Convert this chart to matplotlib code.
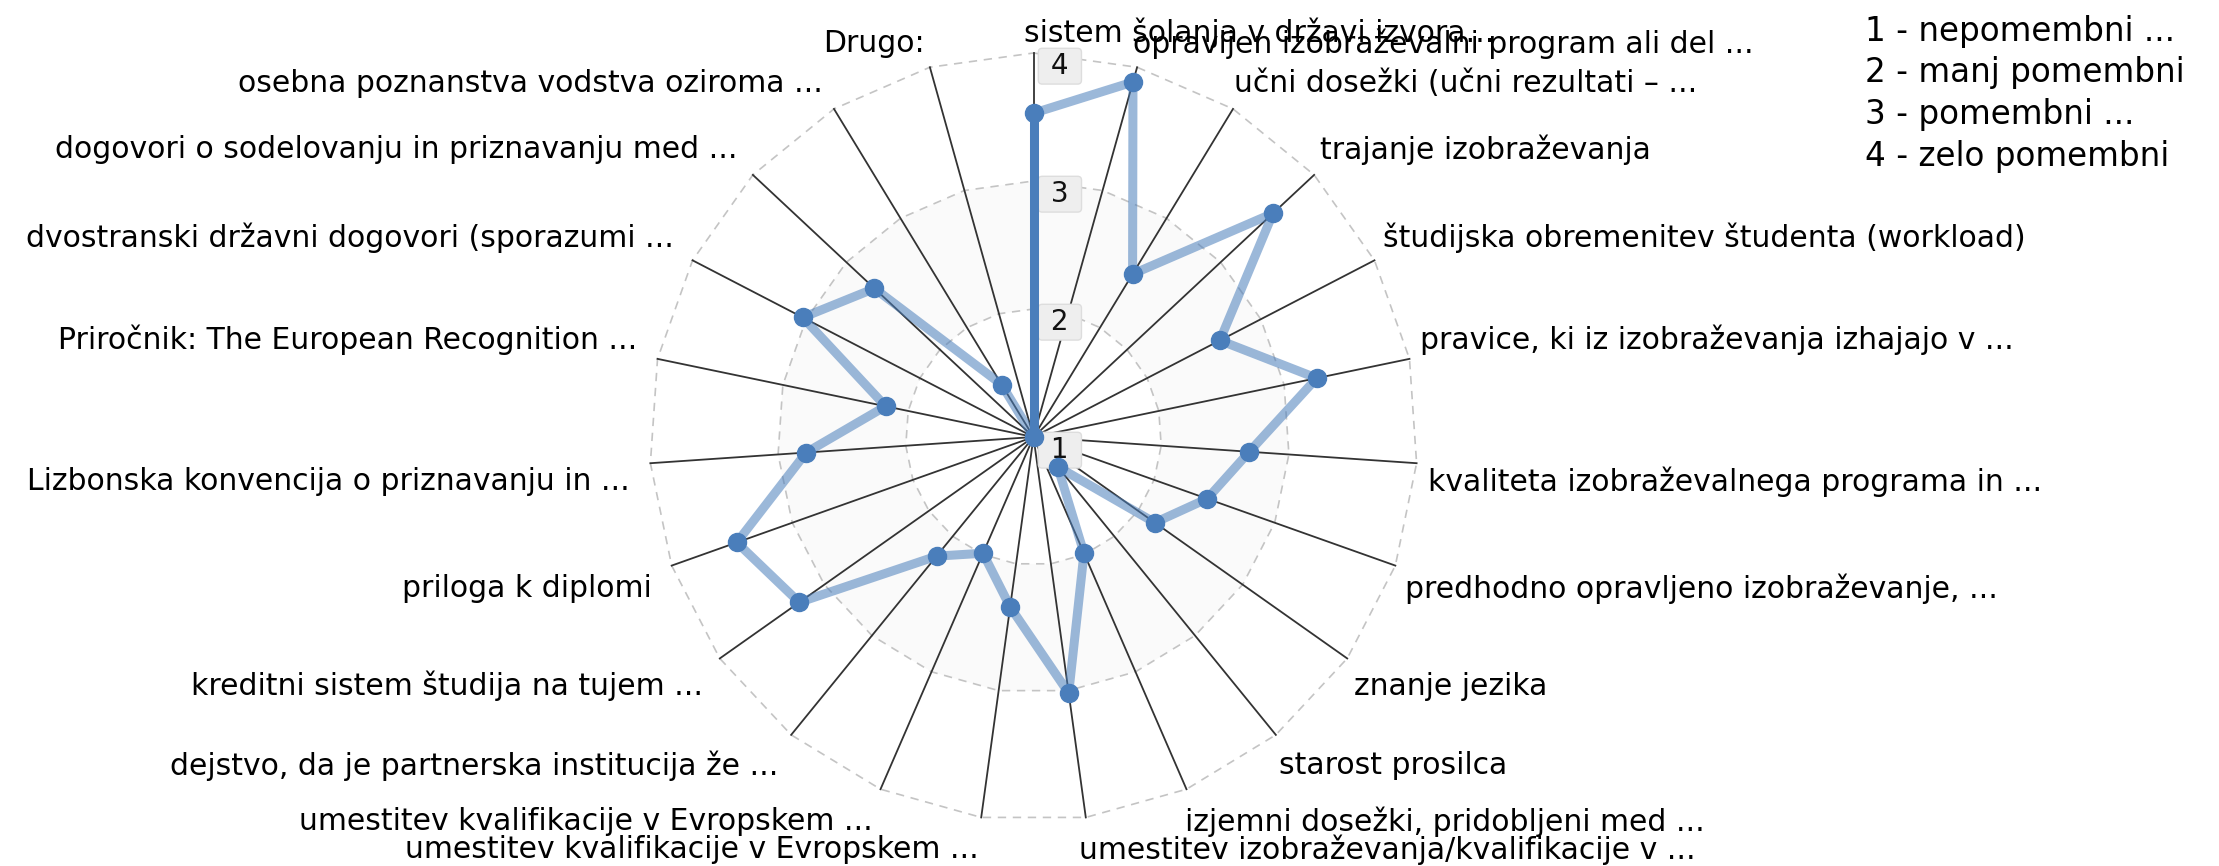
import numpy as np
import matplotlib
matplotlib.use('Agg')
import matplotlib.pyplot as plt

plt.rcParams['font.family'] = ['DejaVu Sans']

# ---------------------- Data ----------------------
categories = [
    "sistem šolanja v državi izvora...",
    "opravljen izobraževalni program ali del ...",
    "učni dosežki (učni rezultati – ...",
    "trajanje izobraževanja",
    "študijska obremenitev študenta (workload)",
    "pravice, ki iz izobraževanja izhajajo v ...",
    "kvaliteta izobraževalnega programa in ...",
    "predhodno opravljeno izobraževanje, ...",
    "znanje jezika",
    "starost prosilca",
    "izjemni dosežki, pridobljeni med ...",
    "umestitev izobraževanja/kvalifikacije v ...",
    "umestitev kvalifikacije v Evropskem ...",
    "umestitev kvalifikacije v Evropskem ...",
    "dejstvo, da je partnerska institucija že ...",
    "kreditni sistem študija na tujem ...",
    "priloga k diplomi",
    "Lizbonska konvencija o priznavanju in ...",
    "Priročnik: The European Recognition ...",
    "dvostranski državni dogovori (sporazumi ...",
    "dogovori o sodelovanju in priznavanju med ...",
    "osebna poznanstva vodstva oziroma ...",
    "Drugo:",
]
values = [3.53, 3.88, 2.49, 3.56, 2.64, 3.26, 2.69, 2.44, 2.16, 1.30, 1.99, 3.02,
          2.34, 1.99, 2.20, 3.24, 3.46, 2.78, 2.18, 3.03, 2.70, 1.48, 1.00]
scale_ticks = [1, 2, 3, 4]
scale_legend = ["1 - nepomembni ...", "2 - manj pomembni", "3 - pomembni ...", "4 - zelo pomembni"]

# ---------------------- Style ----------------------
W, H, DPI = 2219, 866, 100
BLUE = '#4a7ebb'
LABEL_FS = 21.5

fig = plt.figure(figsize=(W / DPI, H / DPI), dpi=DPI)
fig.patch.set_facecolor('white')

# polar axes centred at (1033, 437) px, radius 384 px
cx, cy, rad = 1033.5, 437.0, 384.0
ax = fig.add_axes([(cx - rad) / W, (H - cy - rad) / H, 2 * rad / W, 2 * rad / H], projection='polar')
ax.set_theta_zero_location('N')
ax.set_theta_direction(-1)
ax.patch.set_visible(False)
ax.spines['polar'].set_visible(False)
ax.grid(False)

n = len(categories)
theta = np.arange(n) * 2 * np.pi / n
tc = np.append(theta, 2 * np.pi)
rmin, rmax = scale_ticks[0], scale_ticks[-1]

# alternate band between 2 and 3
ax.fill(np.concatenate([tc, tc[::-1]]),
        np.concatenate([np.full(n + 1, 3.0), np.full(n + 1, 2.0)]),
        color='#fafafa', lw=0, zorder=0)

# polygon rings (dashed) and spokes
for r in scale_ticks[1:]:
    ax.plot(tc, np.full(n + 1, r), color='#c4c4c4', lw=1.2, dashes=(5, 4), zorder=1, clip_on=False)
for t in theta:
    ax.plot([t, t], [rmin, rmax], color='#333333', lw=1.3, zorder=1, clip_on=False)

# scale value labels on the top spoke
for v in scale_ticks:
    ax.annotate(f" {v} ", xy=(0, v), xytext=(19, -9.5), textcoords='offset points',
                ha='center', va='center', fontsize=20, color='#111111', zorder=2,
                bbox=dict(boxstyle='round,pad=0.14', fc='#eeeeee', ec='#dddddd', lw=1))

# series
ax.plot(theta, values, color=BLUE, alpha=0.55, lw=6.5, solid_joinstyle='round', zorder=3, clip_on=False)
ax.plot([theta[-1], 2 * np.pi], [values[-1], values[0]], color=BLUE, lw=6.5, zorder=3, clip_on=False)
ax.plot(theta, values, 'o', color=BLUE, ms=13, zorder=4, clip_on=False)

ax.set_xticks([])
ax.set_yticks([])
ax.set_ylim(rmin, rmax)

# category labels around the chart
dist = 14.9
for t, lab in zip(theta, categories):
    s, c = np.sin(t), np.cos(t)
    left = s >= -1e-9
    dx = dist * s - (7 if left else 0)
    if c > 0:
        dy = dist * c + 10.7 * abs(s)
    else:
        dy = dist * c - (8 + 4 * abs(s))
    ax.annotate(lab, xy=(t, rmax), xytext=(dx, dy), textcoords='offset points',
                ha='left' if left else 'right', va='center', fontsize=LABEL_FS,
                color='#000000', annotation_clip=False)

# scale legend, top right
for i, txt in enumerate(scale_legend):
    fig.text(1865 / W, 1 - (31 + 41.7 * i) / H, txt, ha='left', va='center',
             fontsize=23.5, color='#000000')

fig.savefig('out.png', dpi=DPI, facecolor='white')
